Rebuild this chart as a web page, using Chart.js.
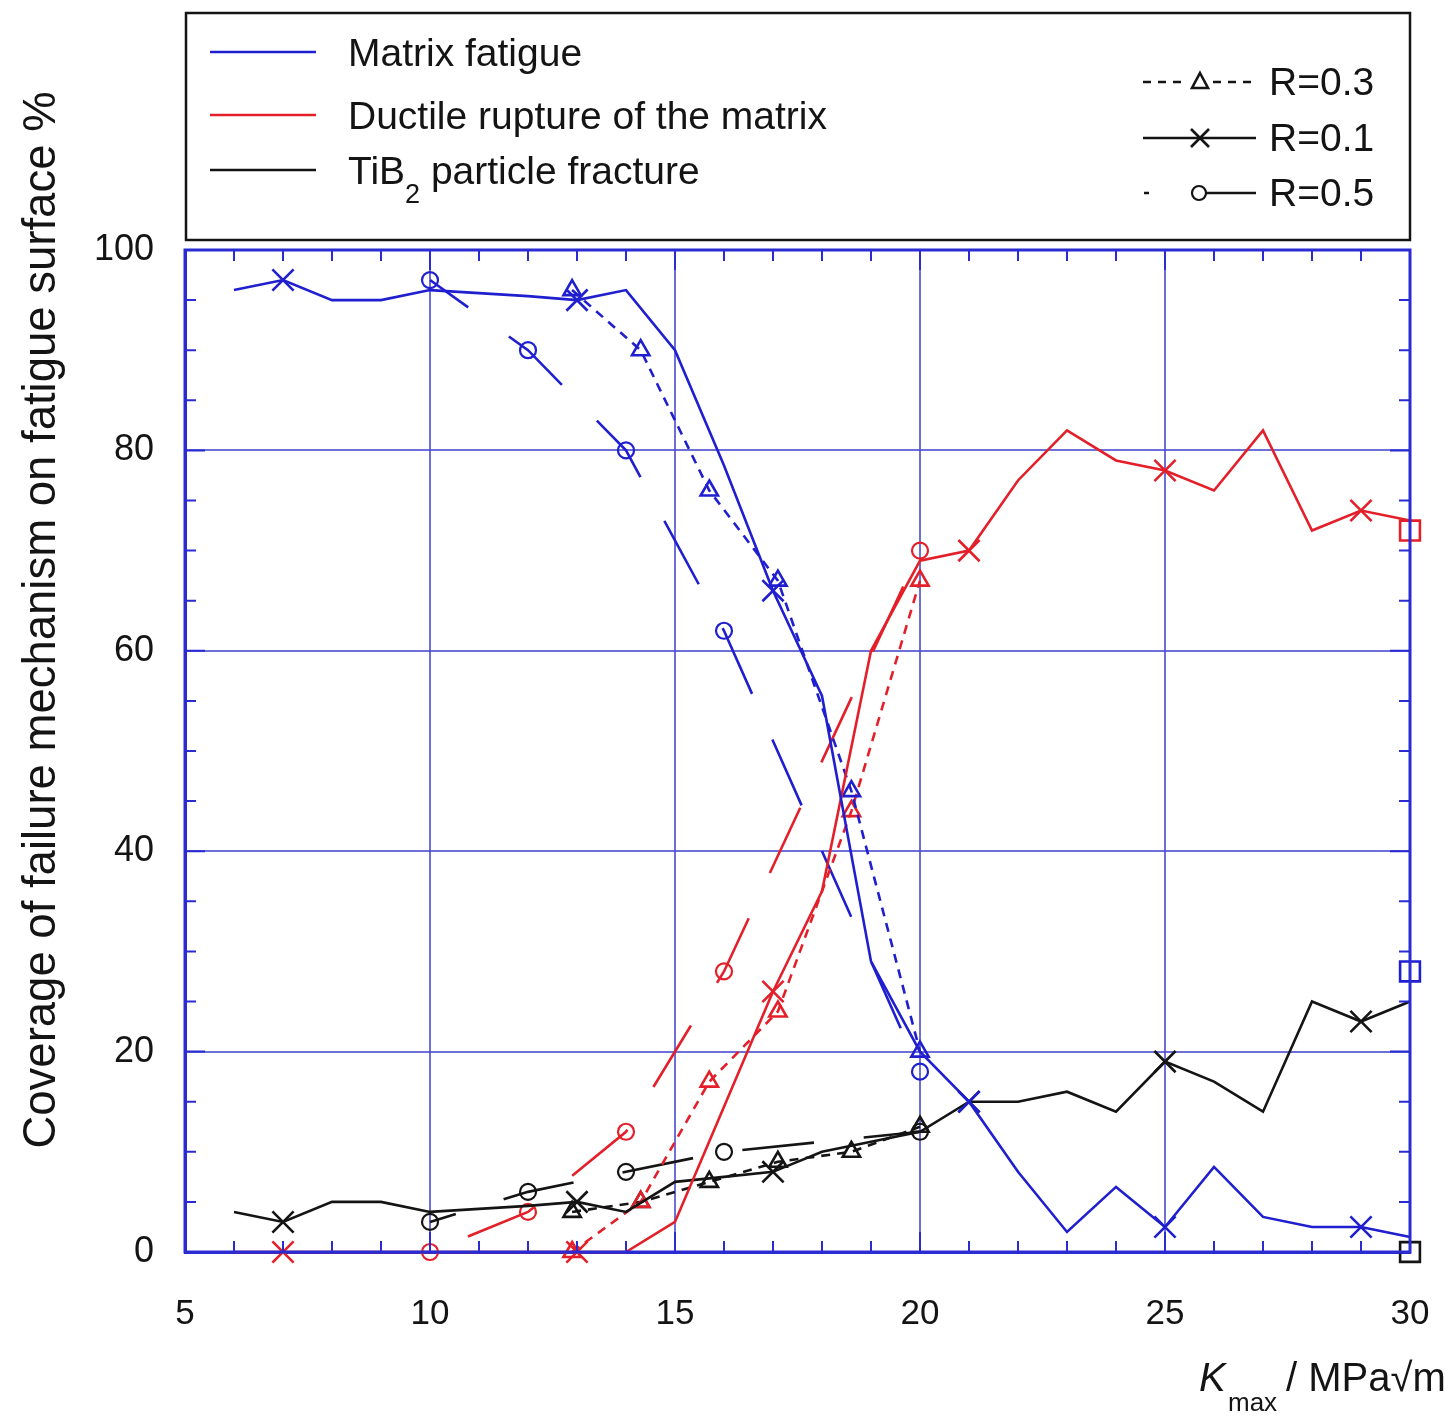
<!DOCTYPE html>
<html>
<head>
<meta charset="utf-8">
<script src="https://cdn.jsdelivr.net/npm/chart.js@4.4.0/dist/chart.umd.min.js"></script>
<style>
  html, body { margin: 0; padding: 0; background: #fff; }
  #wrap { width: 1454px; height: 1416px; }
</style>
</head>
<body>
<div id="wrap"><canvas id="myChart" width="1454" height="1416"></canvas></div>
<script>
// K_max values (MPa√m) and coverage (%)
const kR01 = [6, 7, 8, 9, 10, 11, 12, 13, 14, 15, 16, 17, 18, 19, 20, 21, 22, 23, 24, 25, 26, 27, 28, 29, 30];
const matrixR01 = [96, 97, 95, 95, 96, 95.7, 95.4, 95, 96, 90, 78.5, 66, 55.5, 29, 20, 15, 8, 2, 6.5, 2.5, 8.5, 3.5, 2.5, 2.5, 1.5];
const ductileR01 = [0, 0, 0, 0, 0, 0, 0, 0, 0, 3, 14.5, 26, 36, 60, 69, 70, 77, 82, 79, 78, 76, 82, 72, 74, 73];
const tib2R01 = [4, 3, 5, 5, 4, 4.3, 4.6, 5, 4, 7, 7.5, 8, 10, 11, 12, 15, 15, 16, 14, 19, 17, 14, 25, 23, 25];
const markedK = [7, 13, 17, 21, 25, 29];

const kR03 = [12.9, 14.3, 15.7, 17.1, 18.6, 20];
const matrixR03 = [96, 90, 76, 67, 46, 20];
const ductileR03 = [0, 5, 17, 24, 44, 67];
const tib2R03 = [4, 5, 7, 9, 10, 12.5];

const kR05 = [10, 12, 14, 16, 20];
const matrixR05 = [97, 90, 80, 62, 18];
const ductileR05 = [0, 4, 12, 28, 70];
const tib2R05 = [3, 6, 8, 10, 12];

const kSquare = [30];
const matrixSquare = [28];
const ductileSquare = [72];
const tib2Square = [0];

const xTicks = [5, 10, 15, 20, 25, 30];
const yTicks = [0, 20, 40, 60, 80, 100];

const BLUE = '#1f1fcf';
const RED = '#e3202a';
const BLACK = '#141414';
const FRAME = '#2b2bd2';
const GRID = 'rgba(75, 75, 208, 0.8)';
const FONT = '"Liberation Sans", Arial, sans-serif';

const toPoints = (xs, ys) => xs.map((x, i) => ({ x, y: ys[i] }));

function r01(ys, color) {
  return {
    data: toPoints(kR01, ys),
    showLine: true,
    borderColor: color,
    borderWidth: 2.6,
    pointStyle: 'crossRot',
    pointRadius: kR01.map(k => (markedK.includes(k) ? 15 : 0)),
    pointBorderWidth: 2.6,
    pointBorderColor: color,
    pointBackgroundColor: 'rgba(0,0,0,0)'
  };
}

function r03(ys, color) {
  return {
    data: toPoints(kR03, ys),
    showLine: true,
    borderColor: color,
    borderWidth: 2.6,
    borderDash: [9, 7],
    pointStyle: 'triangle',
    pointRadius: 10,
    pointBorderWidth: 2.6,
    pointBorderColor: color,
    pointBackgroundColor: 'rgba(0,0,0,0)'
  };
}

function r05(ys, color, dashOffset) {
  return {
    data: toPoints(kR05, ys),
    showLine: true,
    borderColor: color,
    borderWidth: 2.6,
    borderDash: [72, 50],
    borderDashOffset: dashOffset,
    pointStyle: 'circle',
    pointRadius: 8,
    pointBorderWidth: 2.2,
    pointBorderColor: color,
    pointBackgroundColor: 'rgba(0,0,0,0)'
  };
}

function squares(ys, color) {
  return {
    data: toPoints(kSquare, ys),
    showLine: false,
    pointStyle: 'rect',
    pointRadius: 14,
    pointBorderWidth: 2.6,
    pointBorderColor: color,
    pointBackgroundColor: 'rgba(0,0,0,0)'
  };
}

// inward ticks, frame, legend box and axis titles
const decorations = {
  id: 'decorations',
  afterDatasetsDraw(chart) {
    const { ctx, chartArea: a, scales: { x, y } } = chart;
    ctx.save();
    ctx.strokeStyle = FRAME;
    ctx.lineWidth = 2;
    ctx.beginPath();
    for (let k = 5; k <= 30; k++) {
      const px = x.getPixelForValue(k);
      const len = k % 5 === 0 ? 20 : 11;
      ctx.moveTo(px, a.bottom); ctx.lineTo(px, a.bottom - len);
      ctx.moveTo(px, a.top); ctx.lineTo(px, a.top + len);
    }
    for (let v = 0; v <= 100; v += 5) {
      const py = y.getPixelForValue(v);
      const len = v % 20 === 0 ? 20 : 11;
      ctx.moveTo(a.left, py); ctx.lineTo(a.left + len, py);
      ctx.moveTo(a.right, py); ctx.lineTo(a.right - len, py);
    }
    ctx.stroke();
    ctx.lineWidth = 3;
    ctx.strokeRect(a.left, a.top, a.right - a.left, a.bottom - a.top);
    ctx.restore();
  },
  afterDraw(chart) {
    const { ctx, chartArea: a } = chart;
    ctx.save();

    // legend box
    ctx.strokeStyle = BLACK;
    ctx.lineWidth = 2.5;
    ctx.strokeRect(a.left + 1, 13, a.right - a.left - 1, 227);

    ctx.fillStyle = BLACK;
    ctx.textBaseline = 'middle';
    ctx.textAlign = 'left';
    ctx.font = '39px ' + FONT;

    const mech = [
      { color: BLUE, y: 52, text: 'Matrix fatigue' },
      { color: RED, y: 115, text: 'Ductile rupture of the matrix' },
      { color: BLACK, y: 170, text: null }
    ];
    mech.forEach(m => {
      ctx.strokeStyle = m.color;
      ctx.lineWidth = 2.4;
      ctx.beginPath(); ctx.moveTo(210, m.y); ctx.lineTo(316, m.y); ctx.stroke();
      if (m.text) ctx.fillText(m.text, 348, m.y + 3);
    });
    ctx.fillText('TiB', 348, 173);
    let w = ctx.measureText('TiB').width;
    ctx.font = '27px ' + FONT;
    ctx.fillText('2', 348 + w, 196);
    w += ctx.measureText('2').width;
    ctx.font = '39px ' + FONT;
    ctx.fillText(' particle fracture', 348 + w, 173);

    // R legend
    ctx.strokeStyle = BLACK;
    ctx.lineWidth = 2.4;
    ctx.setLineDash([8, 7]);
    ctx.beginPath(); ctx.moveTo(1143, 82); ctx.lineTo(1187, 82); ctx.moveTo(1213, 82); ctx.lineTo(1257, 82); ctx.stroke();
    ctx.setLineDash([]);
    ctx.beginPath(); ctx.moveTo(1143, 138); ctx.lineTo(1256, 138); ctx.stroke();
    ctx.beginPath(); ctx.moveTo(1144, 193); ctx.lineTo(1149, 193); ctx.moveTo(1206, 193); ctx.lineTo(1256, 193); ctx.stroke();
    ctx.lineWidth = 2.6;
    // triangle
    ctx.beginPath();
    ctx.moveTo(1200, 73); ctx.lineTo(1208, 88); ctx.lineTo(1192, 88); ctx.closePath(); ctx.stroke();
    // cross
    ctx.beginPath();
    ctx.moveTo(1191, 129); ctx.lineTo(1209, 147); ctx.moveTo(1209, 129); ctx.lineTo(1191, 147); ctx.stroke();
    // circle
    ctx.lineWidth = 2.2;
    ctx.beginPath(); ctx.arc(1199, 193, 7, 0, Math.PI * 2); ctx.stroke();

    ctx.fillText('R=0.3', 1269, 84);
    ctx.fillText('R=0.1', 1269, 140);
    ctx.fillText('R=0.5', 1269, 195);

    // y title
    ctx.save();
    ctx.translate(42, 620);
    ctx.rotate(-Math.PI / 2);
    ctx.textAlign = 'center';
    ctx.font = '45.5px ' + FONT;
    ctx.fillText('Coverage of failure mechanism on fatigue surface %', 0, 0);
    ctx.restore();

    // x title
    ctx.textBaseline = 'alphabetic';
    ctx.font = 'italic 40px ' + FONT;
    ctx.fillText('K', 1199, 1391);
    ctx.font = '26px ' + FONT;
    ctx.fillText('max', 1228, 1411);
    ctx.font = '40px ' + FONT;
    ctx.fillText('/ MPa√m', 1286, 1391);

    ctx.restore();
  }
};

const ctx = document.getElementById('myChart').getContext('2d');

new Chart(ctx, {
  type: 'scatter',
  data: {
    datasets: [
      r01(matrixR01, BLUE), r01(ductileR01, RED), r01(tib2R01, BLACK),
      r03(matrixR03, BLUE), r03(ductileR03, RED), r03(tib2R03, BLACK),
      r05(matrixR05, BLUE, 25), r05(ductileR05, RED, 81), r05(tib2R05, BLACK, 45),
      squares(matrixSquare, BLUE), squares(ductileSquare, RED), squares(tib2Square, BLACK)
    ]
  },
  options: {
    responsive: false,
    animation: false,
    clip: false,
    layout: { padding: { top: 250, right: 44, left: 0, bottom: 0 } },
    plugins: { legend: { display: false }, tooltip: { enabled: false } },
    elements: { line: { tension: 0 } },
    scales: {
      x: {
        type: 'linear',
        min: 5,
        max: 30,
        afterBuildTicks: s => { s.ticks = xTicks.map(value => ({ value })); },
        afterFit: s => { s.height = 164; s.paddingLeft = 0; s.paddingRight = 0; },
        ticks: { color: BLACK, font: { size: 35, family: FONT }, padding: 41 },
        grid: { color: GRID, lineWidth: 2, drawTicks: false },
        border: { color: FRAME, width: 3 }
      },
      y: {
        min: 0,
        max: 100,
        afterBuildTicks: s => { s.ticks = yTicks.map(value => ({ value })); },
        afterFit: s => { s.width = 185; s.paddingTop = 0; s.paddingBottom = 0; },
        ticks: { color: BLACK, font: { size: 36, family: FONT }, padding: 31 },
        grid: { color: GRID, lineWidth: 2, drawTicks: false },
        border: { color: FRAME, width: 3 }
      }
    }
  },
  plugins: [decorations]
});
</script>
</body>
</html>
